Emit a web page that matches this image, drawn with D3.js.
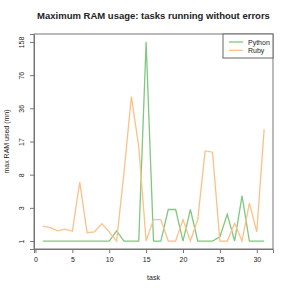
<!DOCTYPE html>
<html>
<head>
<meta charset="utf-8">
<script src="https://cdn.jsdelivr.net/npm/d3@7"></script>
<style>
  body { margin: 0; background: #fff; }
  text { font-family: "Liberation Sans", Arial, sans-serif; fill: #222; }
</style>
</head>
<body>
<svg id="chart"></svg>
<script>
var tasks = d3.range(1, 32);
var python = [1, 1, 1, 1, 1, 1, 1, 1, 1, 1, 1.5, 1, 1, 1, 158, 1, 1, 3, 3, 1, 3, 1, 1, 1, 1.2, 2.6, 1, 4.4, 1, 1, 1];
var ruby = [1.78, 1.68, 1.5, 1.6, 1.48, 6.3, 1.4, 1.45, 1.93, 1.45, 1, 8, 46.8, 14.9, 1, 2.2, 2.2, 1, 1, 2.2, 1, 2.2, 13.5, 13.1, 1, 1, 1.95, 1, 3.6, 1.45, 22.3];
var xTicks = [0, 5, 10, 15, 20, 25, 30];
var yTickLabels = ['1', '3', '8', '17', '36', '76', '158'];
var seriesNames = ['Python', 'Ruby'];
var seriesColors = ['#7FC97F', '#FDC086'];

var width = 291,
    height = 291,
    boxLeft = 34,
    boxRight = 273,
    boxTop = 34,
    boxBottom = 249;

var svg = d3.select('svg#chart')
    .attr('width', width)
    .attr('height', height);

// R style 4% padding around the data range
var xPad = 0.04 * (31 - 1);
var x = d3.scaleLinear()
    .domain([1 - xPad, 31 + xPad])
    .range([boxLeft, boxRight]);

// y is log(1 + value)
var lo = Math.log1p(1),
    hi = Math.log1p(158),
    yPad = 0.04 * (hi - lo);
var y = d3.scaleSymlog()
    .constant(1)
    .domain([Math.expm1(lo - yPad), Math.expm1(hi + yPad)])
    .range([boxBottom, boxTop]);

var yTickValues = yTickLabels.map(function(d, i) {
    return Math.expm1(lo + i * (hi - lo) / (yTickLabels.length - 1));
});

var line = d3.line()
    .x(function(d, i) { return x(tasks[i]); })
    .y(function(d) { return y(d); });

[python, ruby].forEach(function(values, i) {
    svg.append('path')
        .datum(values)
        .attr('d', line)
        .attr('fill', 'none')
        .attr('stroke', seriesColors[i])
        .attr('stroke-width', 1.3);
});

// x axis
var xAxis = svg.append('g')
    .attr('transform', 'translate(0,' + boxBottom + ')')
    .call(d3.axisBottom(x).tickValues(xTicks).tickSize(4).tickPadding(4));
xAxis.select('.domain').attr('stroke', '#777');
xAxis.selectAll('.tick line').attr('stroke', '#777');
xAxis.selectAll('.tick text')
    .attr('font-size', 7)
    .attr('font-family', '"Liberation Sans", Arial, sans-serif')
    .attr('fill', '#222');

// y axis with rotated labels
var yAxis = svg.append('g')
    .attr('transform', 'translate(' + boxLeft + ',0)')
    .call(d3.axisLeft(y).tickValues(yTickValues).tickSize(4)
        .tickFormat(function(d, i) { return yTickLabels[i]; }));
yAxis.select('.domain').attr('stroke', '#777');
yAxis.selectAll('.tick line').attr('stroke', '#777');
yAxis.selectAll('.tick text')
    .attr('font-size', 7)
    .attr('font-family', '"Liberation Sans", Arial, sans-serif')
    .attr('fill', '#222')
    .attr('x', null)
    .attr('dy', null)
    .attr('text-anchor', 'middle')
    .attr('transform', 'translate(-10,0) rotate(-90)');

// plot box
svg.append('rect')
    .attr('x', boxLeft)
    .attr('y', boxTop)
    .attr('width', boxRight - boxLeft)
    .attr('height', boxBottom - boxTop)
    .attr('fill', 'none')
    .attr('stroke', '#777');

// title and axis labels
svg.append('text')
    .attr('x', (boxLeft + boxRight) / 2)
    .attr('y', 19)
    .attr('text-anchor', 'middle')
    .attr('font-size', 9.5)
    .attr('font-weight', 'bold')
    .text('Maximum RAM usage: tasks running without errors');

svg.append('text')
    .attr('x', (boxLeft + boxRight) / 2)
    .attr('y', 280)
    .attr('text-anchor', 'middle')
    .attr('font-size', 7)
    .text('task');

svg.append('text')
    .attr('transform', 'translate(9,' + ((boxTop + boxBottom) / 2) + ') rotate(-90)')
    .attr('text-anchor', 'middle')
    .attr('font-size', 7)
    .text('max RAM used (mn)');

// legend
var legend = svg.append('g');
legend.append('rect')
    .attr('x', 223)
    .attr('y', boxTop)
    .attr('width', boxRight - 223)
    .attr('height', 24)
    .attr('fill', '#fff')
    .attr('stroke', '#666');
seriesNames.forEach(function(name, i) {
    legend.append('line')
        .attr('x1', 229)
        .attr('x2', 243)
        .attr('y1', 42 + i * 8.3)
        .attr('y2', 42 + i * 8.3)
        .attr('stroke', seriesColors[i])
        .attr('stroke-width', 1.3);
    legend.append('text')
        .attr('x', 248)
        .attr('y', 44.5 + i * 8.3)
        .attr('font-size', 7)
        .text(name);
});
</script>
</body>
</html>
